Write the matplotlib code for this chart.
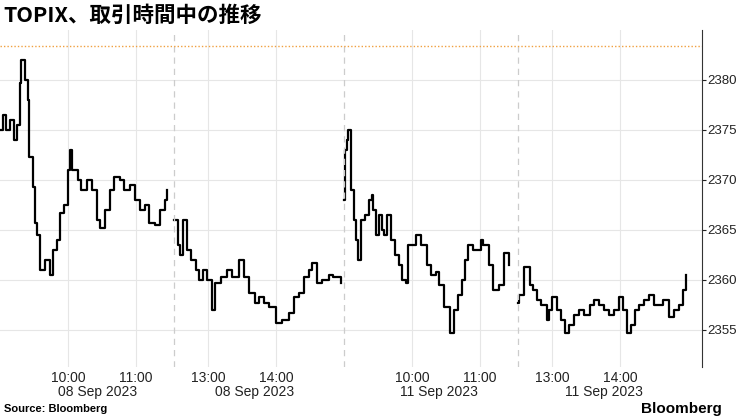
import matplotlib
matplotlib.use("Agg")
import matplotlib.pyplot as plt
import matplotlib.transforms as mtransforms

plt.rcParams['font.family'] = ['Liberation Sans', 'Noto Sans CJK JP', 'DejaVu Sans']

# minutes since session open, TOPIX level
am1_min = [0, 3, 5, 9, 12, 15, 18, 19, 22, 25, 26, 29, 31, 33, 35, 40, 44, 47, 50, 53, 57, 60, 62, 64,
           69, 72, 77, 81, 86, 88, 93, 97, 101, 106, 110, 115, 119, 124, 128, 132, 137, 141, 146, 148]
am1_val = [2375, 2376.5, 2375, 2376, 2374, 2375.5, 2379.7, 2382, 2380, 2378, 2372.3, 2369.3, 2365.7,
           2364.5, 2361, 2362, 2360.5, 2363, 2364, 2366.7, 2367.5, 2371, 2373, 2371,
           2370, 2369, 2370, 2369, 2366, 2365.2, 2367, 2369, 2370.3, 2370, 2369, 2369.5, 2368,
           2367, 2367.5, 2365.7, 2365.5, 2367, 2368, 2369]
pm1_min = [0, 3, 5, 8, 11, 15, 19, 22, 25, 29, 33, 36, 41, 47, 51, 57, 62, 66, 71, 75, 79, 84, 90,
           95, 101, 106, 110, 115, 119, 122, 126, 131, 137, 140, 144, 147]
pm1_val = [2366, 2363.5, 2362.5, 2366, 2363, 2362, 2361, 2360, 2361, 2360, 2357, 2359.7, 2360.3,
           2361, 2360.3, 2362, 2360.3, 2358.7, 2357.7, 2358.3, 2357.7, 2357.3, 2355.7, 2356,
           2356.7, 2358.3, 2358.7, 2360.3, 2361, 2361.7, 2359.7, 2360, 2360.5, 2360.3, 2360.3, 2359.7]
am2_min = [0, 1, 3, 4, 6, 9, 11, 12, 15, 19, 22, 25, 26, 28, 31, 34, 35, 38, 41, 42, 45, 49, 51, 55,
           57, 60, 64, 68, 73, 77, 81, 84, 88, 94, 97, 101, 104, 107, 110, 114, 117, 121, 123, 128,
           132, 137, 141, 146]
am2_val = [2368, 2373, 2374, 2375, 2369, 2366, 2364, 2362, 2366, 2366.5, 2368, 2368.5, 2367, 2364.5,
           2366.5, 2365, 2364.5, 2366.5, 2366.5, 2364, 2362.5, 2361.5, 2360, 2359.7, 2363.5, 2363.5,
           2364.5, 2363.5, 2361.5, 2360.5, 2360.8, 2359.5, 2357.3, 2354.7, 2357, 2358.5, 2360, 2362,
           2363.5, 2363, 2363, 2364, 2363.5, 2361.5, 2359, 2359.5, 2362.7, 2361.5]
pm2_min = [0, 1, 5, 10, 13, 17, 20, 25, 27, 30, 34, 38, 41, 45, 49, 54, 58, 63, 67, 71, 76, 80, 85,
           89, 93, 96, 100, 103, 107, 111, 116, 120, 124, 128, 133, 138, 142, 146, 148]
pm2_val = [2357.7, 2358.5, 2361.3, 2359.5, 2359, 2358, 2357.5, 2356, 2357, 2358.3, 2357, 2356,
           2354.7, 2355.5, 2356.5, 2357, 2356.5, 2357.5, 2358, 2357.5, 2357, 2356.5, 2357, 2358.3,
           2357, 2354.7, 2355.5, 2357, 2357.5, 2358, 2358.5, 2357.5, 2357.5, 2358, 2356.3, 2357,
           2357.5, 2359, 2360.5]

sessions = [(am1_min, am1_val), (pm1_min, pm1_val), (am2_min, am2_val), (pm2_min, pm2_val)]
session_start = [0, 154, 304, 458]  # axis minutes where each session begins
ref_level = 2383.4

tick_pos = [60, 120, 184, 244, 364, 424, 488, 548]
tick_lab = ["10:00", "11:00", "13:00", "14:00", "10:00", "11:00", "13:00", "14:00"]
date_pos = [86, 225, 388, 534]
date_lab = ["08 Sep 2023", "08 Sep 2023", "11 Sep 2023", "11 Sep 2023"]

fig = plt.figure(figsize=(7.4, 4.16), dpi=100)
ax = fig.add_axes([0.0, 0.118, 0.948, 0.81])

for (m, v), s in zip(sessions, session_start):
    ax.plot([s + t for t in m], v, color="black", lw=1.6, drawstyle="steps-post")

for s in session_start[1:]:
    ax.axvline(s, color="#cccccc", lw=0.9, ls=(0, (5, 4)))
ax.axhline(ref_level, color="#f0a040", lw=1, ls=(0, (1, 1.5)))

ax.set_xlim(0, 620)
ax.set_ylim(2351.3, 2385)
ax.set_yticks([2355, 2360, 2365, 2370, 2375, 2380])
ax.set_xticks(tick_pos)
ax.set_xticklabels(tick_lab)
ax.grid(True, color="#e6e6e6", lw=0.8)
ax.set_axisbelow(True)
ax.yaxis.tick_right()
for side in ["top", "left", "bottom"]:
    ax.spines[side].set_visible(False)
ax.spines["right"].set_color("#333333")
ax.tick_params(axis="y", length=3, pad=1, labelsize=9.5, colors="#222222")
ax.tick_params(axis="x", length=0, labelsize=10, colors="#222222", pad=3)

trans = mtransforms.blended_transform_factory(ax.transData, fig.transFigure)
for p, lab in zip(date_pos, date_lab):
    ax.text(p, 0.058, lab, transform=trans, ha="center", va="center", fontsize=10, color="#222222")

fig.text(0.005, 0.962, "TOPIX、取引時間中の推移", fontsize=15.5, fontweight="bold", va="center",
         family=['Noto Sans CJK JP', 'DejaVu Sans'])
fig.text(0.005, 0.018, "Source: Bloomberg", fontsize=8, fontweight="bold", va="center")
fig.text(0.975, 0.018, "Bloomberg", fontsize=11, fontweight="bold", va="center", ha="right")

fig.savefig("out.png", dpi=100)
